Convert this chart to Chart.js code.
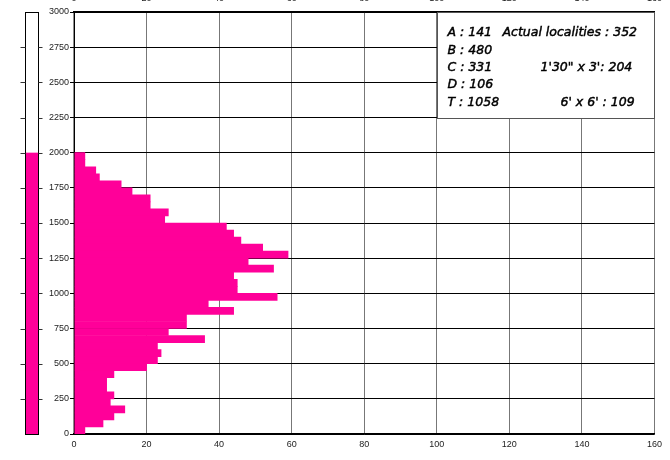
<!DOCTYPE html>
<html><head><meta charset="utf-8">
<script src="https://cdn.jsdelivr.net/npm/chart.js@4"></script>
<style>
html,body{margin:0;padding:0;background:#fff;overflow:hidden;width:670px;height:460px;}
#wrap{position:absolute;left:0;top:-12px;width:670px;height:472px;}
</style></head><body>
<div id="wrap"><canvas id="c" width="670" height="472"></canvas></div>
<script>
// Elevation bins (lower bound, metres), top to bottom
const binLower = [1950,1900,1850,1800,1750,1700,1650,1600,1550,1500,
                  1450,1400,1350,1300,1250,1200,1150,1100,1050,1000,
                  950,900,850,800,750,700,650,600,550,500,
                  450,400,350,300,250,200,150,100,50,0];
const binWidth = 50;
// Number of localities per bin
const counts = [3,3,6,7,13,16,21,21,26,25,
                42,44,46,52,59,48,55,44,45,45,
                56,37,44,31,31,26,36,23,24,23,
                20,11,9,9,11,10,14,11,8,3];
const xRange = [0,160];
const xStep = 20;
const yRange = [0,3000];
const yStep = 250;
const stripRange = [0,2000];
// Summary box
const boxX = [100,160];
const boxY = [2250,3000];
const zoneLines = ['A : 141','B : 480','C : 331','D : 106','T : 1058'];
const noteLines = ['Actual localities : 352','',"1'30\" x 3': 204",'',"6' x 6' : 109"];
const noteOffsets = [65,0,103,0,123];

const PINK = '#FF0099';
const FONT = "'Liberation Sans', Arial, sans-serif";

const decor = {
  id:'decor',
  afterDatasetsDraw(chart){
    const {ctx, chartArea:ca, scales:{x,y}} = chart;
    ctx.save();
    // left axis line over the bars
    ctx.strokeStyle='rgba(0,0,0,0.6)'; ctx.lineWidth=1.5;
    ctx.beginPath(); ctx.moveTo(ca.left, ca.top); ctx.lineTo(ca.left, ca.bottom); ctx.stroke();
    // left elevation strip
    const sx0=25.5, sx1=38.5;
    const yTop=y.getPixelForValue(yRange[1]), yBot=y.getPixelForValue(yRange[0]);
    const yFill=y.getPixelForValue(stripRange[1]), yFill0=y.getPixelForValue(stripRange[0]);
    ctx.fillStyle='#fff'; ctx.fillRect(sx0,yTop,sx1-sx0,yBot-yTop);
    ctx.fillStyle=PINK; ctx.fillRect(sx0,yFill,sx1-sx0,yFill0-yFill);
    ctx.strokeStyle='#000'; ctx.lineWidth=1;
    ctx.strokeRect(sx0, Math.round(yTop)+0.5, sx1-sx0, Math.round(yBot)-Math.round(yTop));
    ctx.strokeStyle='#333';
    y.ticks.forEach(t=>{
      if (t.value<=yRange[0] || t.value>=yRange[1]) return;
      const py=Math.round(y.getPixelForValue(t.value))+0.5;
      ctx.beginPath();
      ctx.moveTo(sx0-5,py); ctx.lineTo(sx0,py);
      ctx.moveTo(sx1,py); ctx.lineTo(sx1+4,py);
      ctx.stroke();
    });
    // summary box
    const bx0=Math.round(x.getPixelForValue(boxX[0]))+0.5, bx1=Math.round(x.getPixelForValue(boxX[1]))+0.5;
    const by0=Math.round(y.getPixelForValue(boxY[1]))+0.5, by1=Math.round(y.getPixelForValue(boxY[0]))+0.5;
    ctx.fillStyle='#fff'; ctx.fillRect(bx0,by0,bx1-bx0,by1-by0);
    ctx.strokeStyle='#555'; ctx.lineWidth=1; ctx.strokeRect(bx0,by0,bx1-bx0,by1-by0);
    ctx.fillStyle='#000'; ctx.strokeStyle='#000'; ctx.lineWidth=0.45;
    ctx.font="oblique 12.5px 'DejaVu Sans'";
    ctx.textBaseline='middle'; ctx.textAlign='left';
    for(let i=0;i<zoneLines.length;i++){
      const ty=by0+20.5+i*17.4;
      ctx.fillText(zoneLines[i], bx0+10, ty);
      ctx.strokeText(zoneLines[i], bx0+10, ty);
      if(noteLines[i]){
        ctx.fillText(noteLines[i], bx0+noteOffsets[i], ty);
        ctx.strokeText(noteLines[i], bx0+noteOffsets[i], ty);
      }
    }
    ctx.restore();
  }
};

new Chart(document.getElementById('c'), {
  type:'bar',
  data:{
    datasets:[{
      data: binLower.map((b,i)=>({x:counts[i], y:b+binWidth/2})),
      backgroundColor: PINK,
      borderWidth:0,
      barPercentage:1,
      categoryPercentage:1
    }]
  },
  options:{
    indexAxis:'y',
    responsive:false,
    animation:false,
    layout:{padding:{left:0,right:14,top:0,bottom:0}},
    plugins:{legend:{display:false}, tooltip:{enabled:false}},
    scales:{
      x:{
        type:'linear', position:'bottom', min:xRange[0], max:xRange[1],
        ticks:{stepSize:xStep, color:'#222', font:{family:FONT,size:9}, padding:5, maxRotation:0, callback:v=>String(v)},
        grid:{color:'#777', drawTicks:false, lineWidth:1},
        border:{color:'#000', width:1.5},
        afterFit(s){ s.height=26; }
      },
      x2:{
        type:'linear', position:'top', min:xRange[0], max:xRange[1],
        ticks:{stepSize:xStep, color:'#222', font:{family:FONT,size:9}, padding:8, maxRotation:0, callback:v=>String(v)},
        grid:{display:false, drawTicks:false},
        border:{color:'#000', width:1.5},
        afterFit(s){ s.height=24; }
      },
      y:{
        type:'linear', position:'left', min:yRange[0], max:yRange[1], offset:false,
        ticks:{stepSize:yStep, color:'#222', font:{family:FONT,size:9}, padding:1, callback:v=>String(v)},
        grid:{color:'#000', lineWidth:1, tickLength:4, offset:false},
        border:{color:'#000', width:1},
        afterFit(s){ s.width=74; }
      }
    }
  },
  plugins:[decor]
});
</script>
</body></html>
